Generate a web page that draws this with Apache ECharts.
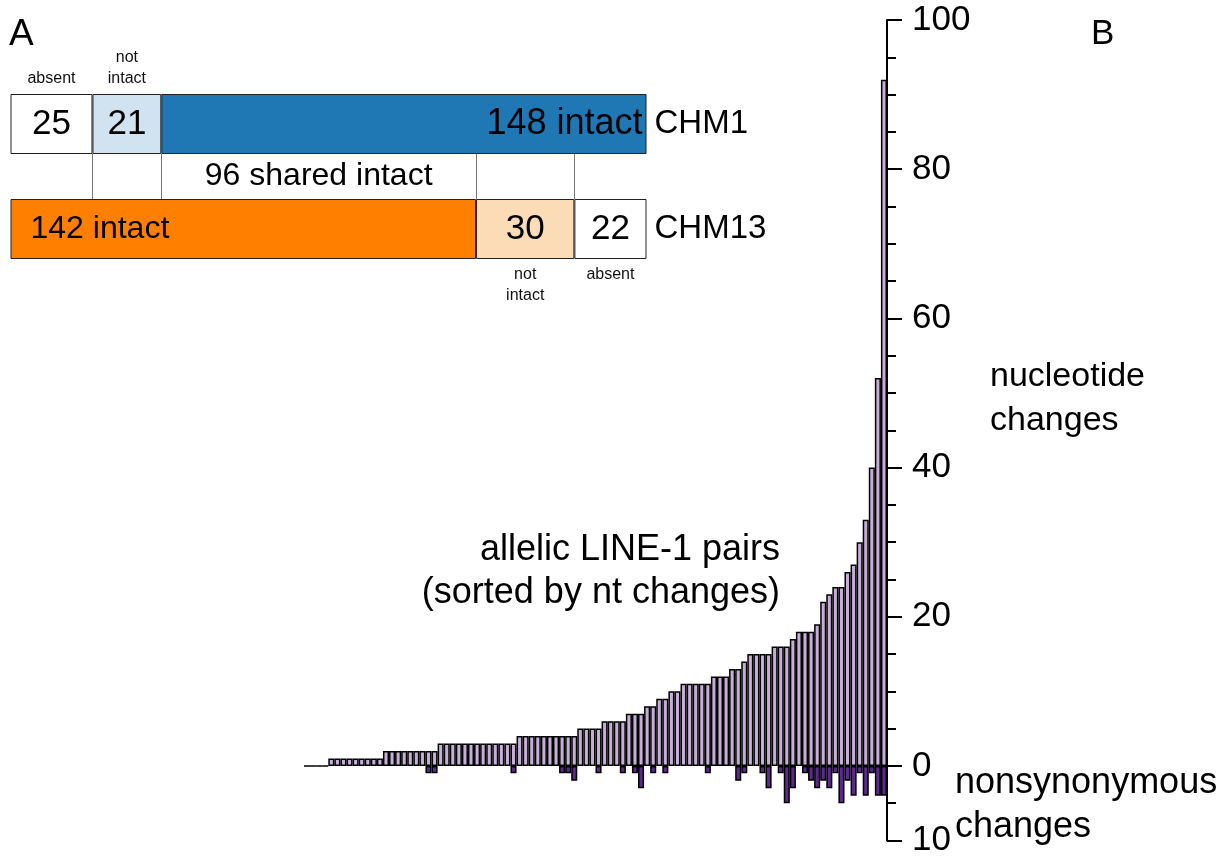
<!DOCTYPE html>
<html><head><meta charset="utf-8">
<script src="https://cdn.jsdelivr.net/npm/echarts@6/dist/echarts.min.js"></script>
<style>html,body{margin:0;padding:0;background:#fff}#c{width:1229px;height:858px}</style>
</head><body><div id="c"></div>
<script>
// ---- Panel B data: 96 allelic LINE-1 pairs sorted by nt changes ----
const pairIds = [];
for (let i = 1; i <= 96; i++) pairIds.push(String(i));
const ntChanges = [0,0,0,0, 1,1,1,1,1,1,1,1,1, 2,2,2,2,2,2,2,2,2,
  3,3,3,3,3,3,3,3,3,3,3,3,3, 4,4,4,4,4,4,4,4,4,4, 5,5,5,5, 6,6,6,6, 7,7,7,
  8,8, 9,9, 10,10, 11,11,11,11,11, 12,12,12, 13,13, 14, 15,15,15,15, 16,16,16,
  17, 18,18,18, 19, 22, 23, 24,24, 26, 27, 30, 33, 40, 52, 92];
const nonsynChanges = [0,0,0,0,0,0,0,0,0,0, 0,0,0,0,0,0,0,0,0,0,
  1,1,0,0,0,0,0,0,0,0, 0,0,0,0,1,0,0,0,0,0, 0,0,1,1,2,0,0,0,1,0,
  0,0,1,0,1,3,0,1,0,1, 0,0,0,0,0,0,1,0,0,0, 0,2,1,0,0,1,3,0,1,5,
  3,0,1,2,3,2,3,1,5,2, 4,1,4,1,4,4];
const yMajorTicks = [-10, 0, 20, 40, 60, 80, 100];

// ---- Panel A data ----
const chm1Parts = ['absent', 'not intact', 'intact'];
const chm1Counts = [25, 21, 148];
const chm13Parts = ['intact', 'not intact', 'absent'];
const chm13Counts = [142, 30, 22];
const sharedIntact = 96;

const FONT = 'Liberation Sans';
const lav = '#c6aed6', dark = '#5a2a8e';
const total = 194;

const chart = echarts.init(document.getElementById('c'), null, {renderer: 'canvas'});

const aGridL = 10.5, aGridW = 636;
function aX(idx){ return {gridIndex: idx, type: 'value', min: 0, max: total, show: false}; }

const series = [];
// Panel B bars
series.push({
  type: 'bar', xAxisIndex: 0, yAxisIndex: 0, data: ntChanges,
  barCategoryGap: 0, barGap: '-100%',
  itemStyle: {color: lav, borderColor: '#000', borderWidth: 1.5},
  silent: true
});
series.push({
  type: 'bar', xAxisIndex: 0, yAxisIndex: 0,
  data: nonsynChanges.map(v => v === 0 ? '-' : -v),
  barCategoryGap: 0, barGap: '-100%',
  itemStyle: {color: dark, borderColor: '#000', borderWidth: 1.5},
  silent: true
});

// Panel A - CHM1 row (grid 1)
const chm1Colors = ['#ffffff', '#d1e2f0', '#1f77b4'];
const chm1Labels = [
  {show: true, position: 'inside', fontSize: 35, formatter: String(chm1Counts[0])},
  {show: true, position: 'inside', fontSize: 35, formatter: String(chm1Counts[1])},
  {show: true, position: 'insideRight', distance: 4, fontSize: 36, formatter: chm1Counts[2] + ' intact'}
];
chm1Counts.forEach((v, i) => {
  series.push({
    type: 'bar', xAxisIndex: 1, yAxisIndex: 2, stack: 'chm1', data: [v],
    barWidth: '100%', barGap: '-100%',
    itemStyle: {color: chm1Colors[i], borderColor: '#222', borderWidth: 1},
    label: Object.assign({color: '#000', fontFamily: FONT}, chm1Labels[i])
  });
});
// captions above CHM1
const chm1Caps = ['absent', 'not\nintact', ''];
chm1Counts.forEach((v, i) => {
  series.push({
    type: 'bar', xAxisIndex: 1, yAxisIndex: 2, stack: 'chm1cap', data: [v],
    barWidth: '100%', barGap: '-100%',
    itemStyle: {color: 'rgba(0,0,0,0)'}, z: 1,
    label: {show: true, position: 'top', distance: 5, formatter: chm1Caps[i],
      color: '#111', fontFamily: FONT, fontSize: 16, lineHeight: 21}
  });
});

// middle row (grid 2): shared intact
const midCounts = [chm1Counts[0], chm1Counts[1], sharedIntact, chm13Counts[1], chm13Counts[2]];
const midBounds = [chm1Counts[0], chm1Counts[0] + chm1Counts[1], chm13Counts[0], chm13Counts[0] + chm13Counts[1]];
midCounts.forEach((v, i) => {
  const s = {
    type: 'bar', xAxisIndex: 2, yAxisIndex: 3, stack: 'mid', data: [v],
    barWidth: '100%', itemStyle: {color: 'rgba(0,0,0,0)'},
    label: {show: i === 2, position: 'inside', formatter: sharedIntact + ' shared intact',
      color: '#000', fontFamily: FONT, fontSize: 32}
  };
  if (i === 0) {
    s.markLine = {silent: true, symbol: 'none', label: {show: false},
      lineStyle: {color: '#777', width: 1, type: 'solid'},
      data: midBounds.map(b => ({xAxis: b}))};
  }
  series.push(s);
});

// CHM13 row (grid 3)
const chm13Colors = ['#ff7f00', '#fcdcb7', '#ffffff'];
const chm13Labels = [
  {show: true, position: 'insideLeft', distance: 20, fontSize: 32, formatter: chm13Counts[0] + ' intact'},
  {show: true, position: 'inside', fontSize: 35, formatter: String(chm13Counts[1])},
  {show: true, position: 'inside', fontSize: 35, formatter: String(chm13Counts[2])}
];
chm13Counts.forEach((v, i) => {
  series.push({
    type: 'bar', xAxisIndex: 3, yAxisIndex: 4, stack: 'chm13', data: [v],
    barWidth: '100%', barGap: '-100%',
    itemStyle: {color: chm13Colors[i], borderColor: '#222', borderWidth: 1},
    label: Object.assign({color: '#000', fontFamily: FONT}, chm13Labels[i])
  });
});
const chm13Caps = ['', 'not\nintact', 'absent'];
chm13Counts.forEach((v, i) => {
  series.push({
    type: 'bar', xAxisIndex: 3, yAxisIndex: 4, stack: 'chm13cap', data: [v],
    barWidth: '100%', barGap: '-100%',
    itemStyle: {color: 'rgba(0,0,0,0)'}, z: 1,
    label: {show: true, position: 'bottom', distance: 5, formatter: chm13Caps[i],
      color: '#111', fontFamily: FONT, fontSize: 16, lineHeight: 21}
  });
});

function txt(x, y, t, size, align) {
  return {type: 'text', x: x, y: y, silent: true,
    style: {text: t, fill: '#000', font: size + 'px "' + FONT + '"', align: align || 'left', verticalAlign: 'middle'}};
}

chart.setOption({
  animation: false,
  backgroundColor: '#fff',
  textStyle: {fontFamily: FONT},
  grid: [
    {left: 304, top: 20, width: 583, height: 825},
    {left: aGridL, top: 94, width: aGridW, height: 60},
    {left: aGridL, top: 154, width: aGridW, height: 45},
    {left: aGridL, top: 199, width: aGridW, height: 60}
  ],
  xAxis: [
    {gridIndex: 0, type: 'category', data: pairIds, show: false},
    aX(1), aX(2), aX(3)
  ],
  yAxis: [
    {gridIndex: 0, type: 'value', position: 'right', min: -10, max: 100, interval: 5,
      axisLine: {show: true, lineStyle: {color: '#000', width: 2}},
      axisTick: {show: true, inside: false, length: 9, lineStyle: {color: '#000', width: 2}},
      axisLabel: {show: false}, splitLine: {show: false}},
    {gridIndex: 0, type: 'value', position: 'right', min: -10, max: 100, interval: 10,
      axisLine: {show: false},
      axisTick: {show: true, inside: false, length: 15, customValues: yMajorTicks, lineStyle: {color: '#000', width: 2}},
      axisLabel: {show: true, customValues: yMajorTicks, margin: 25, color: '#000', fontFamily: FONT, fontSize: 35,
        formatter: v => String(Math.abs(v))},
      splitLine: {show: false}},
    {gridIndex: 1, type: 'category', data: ['CHM1'], position: 'right',
      axisLine: {show: false}, axisTick: {show: false},
      axisLabel: {margin: 8, color: '#000', fontFamily: FONT, fontSize: 33}},
    {gridIndex: 2, type: 'category', data: ['shared'], show: false},
    {gridIndex: 3, type: 'category', data: ['CHM13'], position: 'right',
      axisLine: {show: false}, axisTick: {show: false},
      axisLabel: {margin: 8, color: '#000', fontFamily: FONT, fontSize: 33}}
  ],
  series: series,
  graphic: [
    txt(9, 35, 'A', 37),
    txt(1091, 34, 'B', 35),
    txt(780, 550, 'allelic LINE-1 pairs', 36, 'right'),
    txt(780, 593, '(sorted by nt changes)', 36, 'right'),
    txt(990, 377, 'nucleotide', 34),
    txt(990, 421, 'changes', 34),
    txt(955, 783, 'nonsynonymous', 36),
    txt(955, 827, 'changes', 36)
  ]
});
</script></body></html>
